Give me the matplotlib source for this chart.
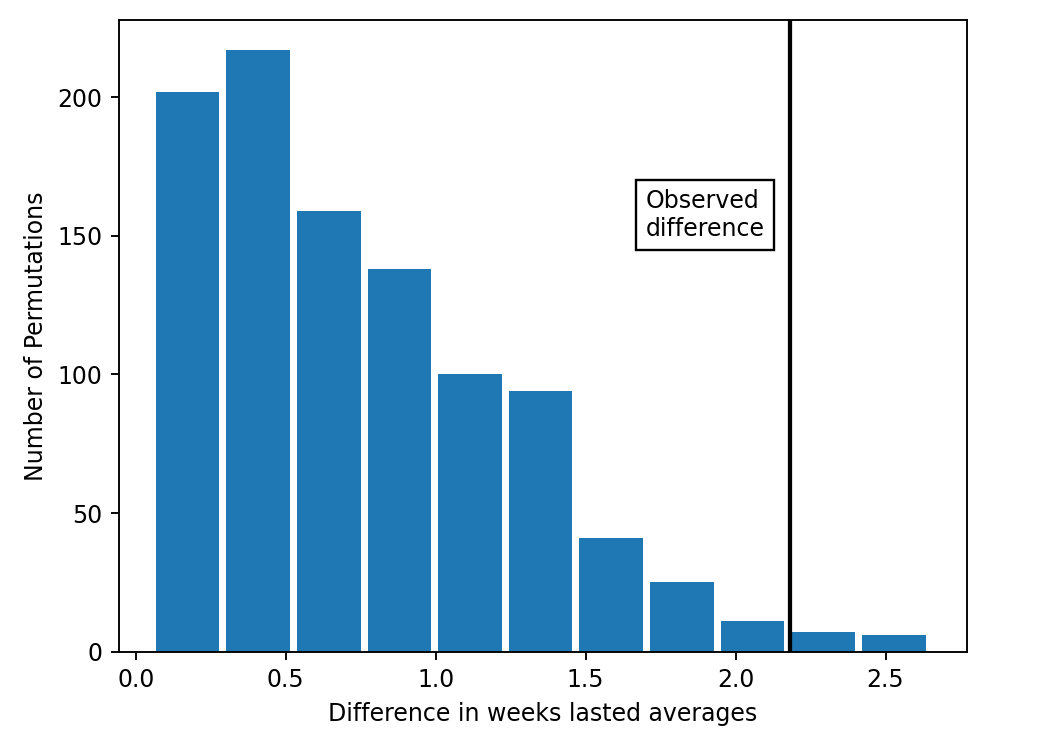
import numpy as np
import matplotlib
matplotlib.use("Agg")
import matplotlib.pyplot as plt

# permutation histogram: bin edges and counts
bin_edges = np.linspace(0.055, 2.645, 12)
counts = [202, 217, 159, 138, 100, 94, 41, 25, 11, 7, 6]
observed_diff = 2.18

DPI = 170
fig = plt.figure(figsize=(1050 / DPI, 746 / DPI), dpi=DPI)
ax = fig.add_axes([0.1133, 0.1264, 0.9205 - 0.1133, 0.9732 - 0.1264])

centers = (bin_edges[:-1] + bin_edges[1:]) / 2
ax.hist(centers, bins=bin_edges, weights=counts, rwidth=0.9)
ax.axvline(observed_diff, color="k", linewidth=1.8)
ax.text(1.7, 150, "Observed\ndifference", bbox=dict(facecolor="white"))

ax.set_xlim(-0.056, 2.77)
ax.set_xlabel("Difference in weeks lasted averages")
ax.set_ylabel("Number of Permutations")

fig.savefig("out.png", dpi=DPI)
